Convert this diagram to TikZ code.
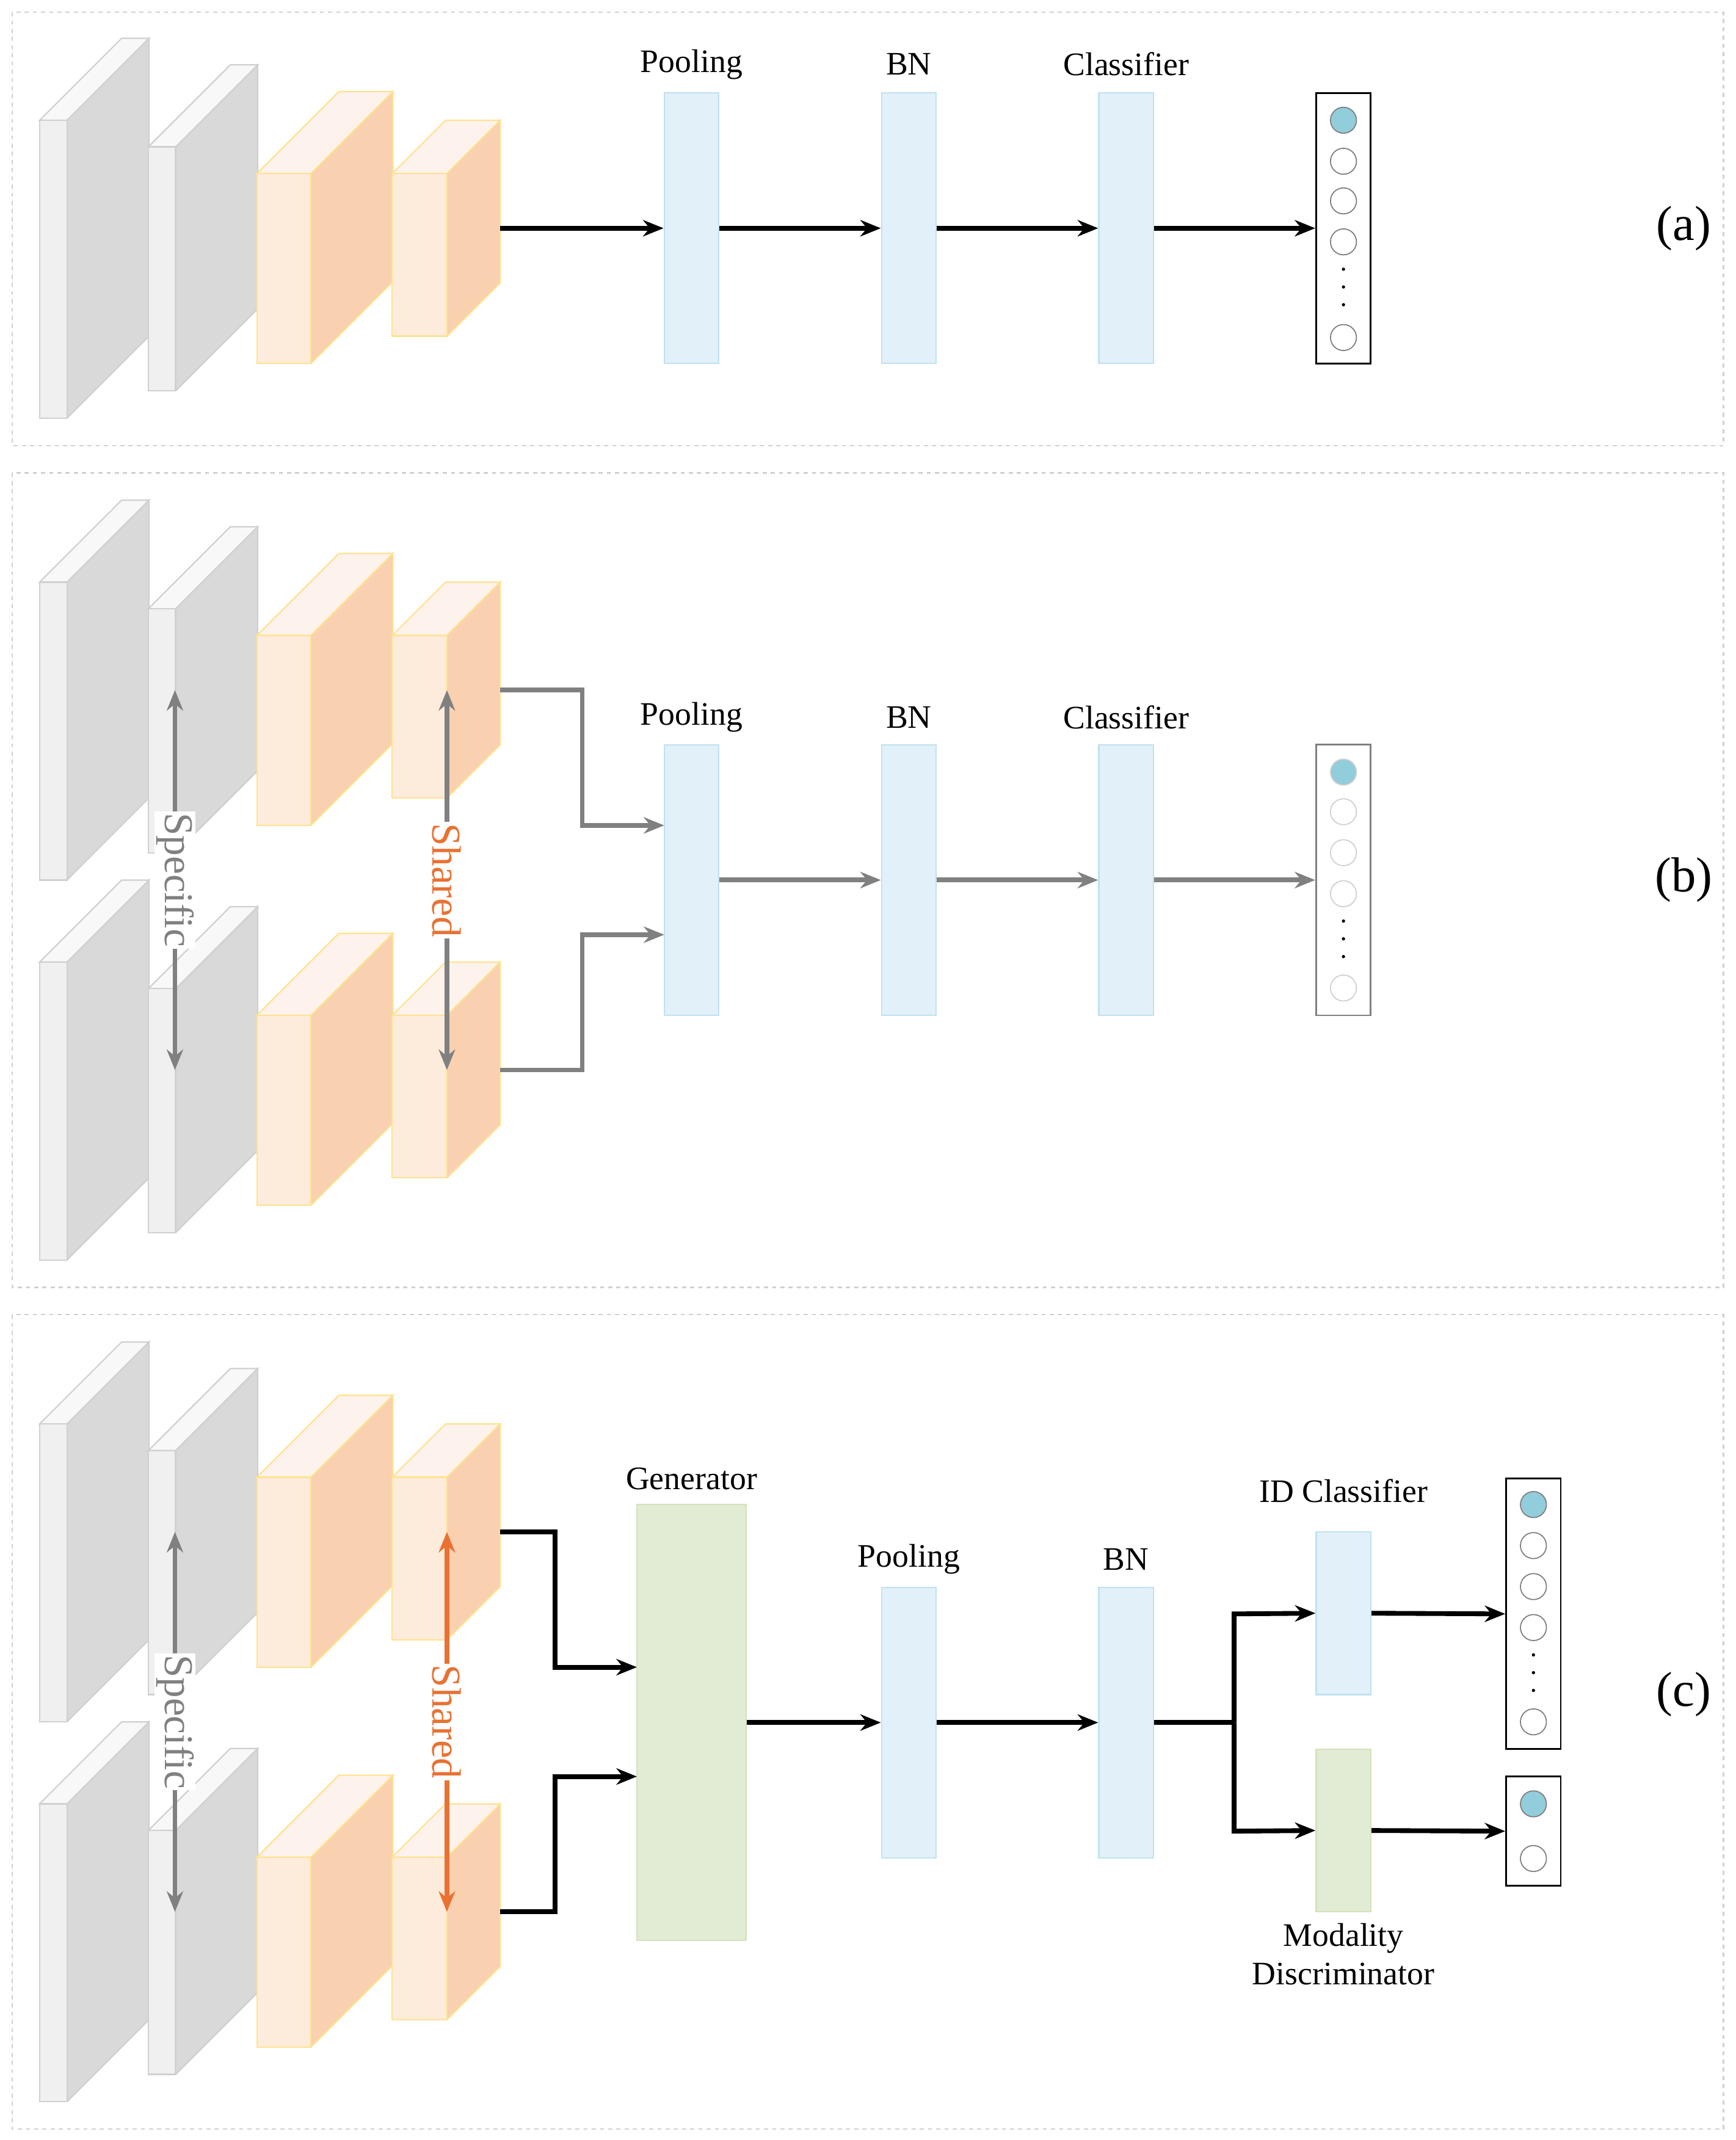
\documentclass[tikz,border=0pt]{standalone}
\usepackage{fontspec}
\setmainfont{Liberation Serif}
\usetikzlibrary{arrows.meta}
\definecolor{gF}{HTML}{F0F0F0}\definecolor{gS}{HTML}{D9D9D9}\definecolor{gT}{HTML}{F8F8F8}\definecolor{gL}{HTML}{D0D0D0}
\definecolor{oF}{HTML}{FDEBDB}\definecolor{oS}{HTML}{F9D0B0}\definecolor{oT}{HTML}{FEF2EC}\definecolor{oL}{HTML}{FFE28F}
\definecolor{bF}{HTML}{E2F0F9}\definecolor{bL}{HTML}{BFE2F0}
\definecolor{vF}{HTML}{E2EBD3}\definecolor{vL}{HTML}{D3E2BC}
\definecolor{cF}{HTML}{92CDDC}\definecolor{orn}{HTML}{E97132}\definecolor{arg}{HTML}{808080}
\newcommand\drawblk[8]{% x y w h front side line depth
 \fill[#6] (#1+#3,#2) -- (#1+#3+#8,#2-#8) -- (#1+#3+#8,#2+#4-#8) -- (#1+#3,#2+#4) -- cycle;
 \draw[#7,line width=1] (#1+#3,#2) -- (#1+#3+#8,#2-#8) -- (#1+#3+#8,#2+#4-#8) -- (#1+#3,#2+#4);
 \filldraw[fill=#5T,draw=#7,line width=1] (#1,#2) -- (#1+#8,#2-#8) -- (#1+#3+#8,#2-#8) -- (#1+#3,#2) -- cycle;
 \filldraw[fill=#5F,draw=#7,line width=1] (#1,#2) rectangle (#1+#3,#2+#4);}
\newcommand\stack[1]{%
 \drawblk{29}{88+#1}{20}{218}{g}{gS}{gL}{60}
 \drawblk{108.5}{107.5+#1}{20}{178.5}{g}{gS}{gL}{60}
 \drawblk{188}{127+#1}{39.5}{139}{o}{oS}{oL}{60}
 \drawblk{287}{127+#1}{40}{119}{o}{oS}{oL}{39}}
\begin{document}
\begin{tikzpicture}[x=1pt,y=-1pt,
 panel/.style={draw=gL,dashed,line width=1},
 bbar/.style={draw=bL,fill=bF,line width=1,minimum width=40,minimum height=198,inner sep=0},
 lab/.style={font=\fontsize{24}{26}\selectfont,inner sep=0},
 tag/.style={font=\fontsize{36}{38}\selectfont},
 outbox/.style={draw=black,line width=1.3,minimum width=40,inner sep=0},
 cir/.style={circle,draw=arg,line width=0.8,minimum size=19,inner sep=0},
 full/.style={cir,fill=cF,draw=arg},
 ka/.style={line width=3.5,-{Stealth[length=15,width=12]}},
 ga/.style={line width=3.5,arg,-{Stealth[length=15,width=12]}},
 da/.style={line width=3.5,{Stealth[length=15,width=12]}-{Stealth[length=15,width=12]}},
 rl/.style={font=\fontsize{30}{32}\selectfont,rotate=-90,fill=white,inner sep=1}]
\useasboundingbox (0,0) rectangle (1270,1566);
\fill[white] (0,0) rectangle (1270,1566);
\draw[panel] (9,9) rectangle (1261,326);
\draw[panel] (9,346) rectangle (1261,942);
\draw[panel] (9,962) rectangle (1261,1558);
% ---- (a)
\stack{0}
\coordinate (a4) at (366,167);
\node[bbar] (ap) at (506,167) {};
\node[bbar] (ab) at (665,167) {};
\node[bbar] (ac) at (824,167) {};
\node[outbox,minimum height=198] (ao) at (983,167) {};
\node[lab] at (506,47) {Pooling};
\node[lab] at (665,47) {BN};
\node[lab] at (824,47) {Classifier};
\foreach \y/\s in {88/full,118/cir,147/cir,177/cir,247/cir} \node[\s] at (983,\y) {};
\foreach \y in {197,210,223} \fill (983,\y) circle (1.2);
\draw[ka] (a4) -- (ap.west);
\draw[ka] (ap.east) -- (ab.west);
\draw[ka] (ab.east) -- (ac.west);
\draw[ka] (ac.east) -- (ao.west);
\node[tag] at (1232,167) {(a)};
% ---- (b)
\stack{338}
\stack{616}
\coordinate (b4u) at (366,505);
\coordinate (b4d) at (366,783);
\node[bbar] (bp) at (506,644) {};
\node[bbar] (bb) at (665,644) {};
\node[bbar] (bc) at (824,644) {};
\node[outbox,draw=arg,minimum height=198] (bo) at (983,644) {};
\node[lab] at (506,525) {Pooling};
\node[lab] at (665,525) {BN};
\node[lab] at (824,525) {Classifier};
\foreach \y/\s in {565/full,594/cir,624/cir,654/cir,723/cir} \node[\s,draw=gL] at (983,\y) {};
\foreach \y in {674,687,700} \fill (983,\y) circle (1.2);
\draw[ga] (b4u) -- (426,505) -- (426,604) -- (486,604);
\draw[ga] (b4d) -- (426,783) -- (426,684) -- (486,684);
\draw[ga] (bp.east) -- (bb.west);
\draw[ga] (bb.east) -- (bc.west);
\draw[ga] (bc.east) -- (bo.west);
\coordinate (bs1) at (128,505); \coordinate (bs2) at (128,783);
\draw[da,arg] (bs1) -- node[rl,text=arg] {Specific} (bs2);
\coordinate (bh1) at (327,505); \coordinate (bh2) at (327,783);
\draw[da,arg] (bh1) -- node[rl,text=orn] {Shared} (bh2);
\node[tag] at (1232,644) {(b)};
% ---- (c)
\stack{954}
\stack{1232}
\coordinate (c4u) at (366,1121);
\coordinate (c4d) at (366,1399);
\node[draw=vL,fill=vF,line width=1,minimum width=80,minimum height=319,inner sep=0] (cg) at (506,1260.5) {};
\node[bbar] (cp) at (665,1260.5) {};
\node[bbar] (cb) at (824,1260.5) {};
\node[bbar,minimum height=119] (cid) at (983,1180.5) {};
\node[draw=vL,fill=vF,line width=1,minimum width=40,minimum height=119,inner sep=0] (cmd) at (983,1339.5) {};
\node[outbox,minimum height=198] (co1) at (1122,1181) {};
\node[outbox,minimum height=80] (co2) at (1122,1340) {};
\node[lab] at (506,1082) {Generator};
\node[lab] at (665,1141) {Pooling};
\node[lab] at (824,1141) {BN};
\node[lab] at (983,1091) {ID Classifier};
\node[lab,align=center] at (983,1430) {Modality\\[2pt]Discriminator};
\foreach \y/\s in {1101/full,1131/cir,1161/cir,1191/cir,1260/cir,1320/full,1360/cir} \node[\s] at (1122,\y) {};
\foreach \y in {1211,1224,1237} \fill (1122,\y) circle (1.2);
\draw[ka] (c4u) -- (406,1121) -- (406,1220) -- (466,1220);
\draw[ka] (c4d) -- (406,1399) -- (406,1300) -- (466,1300);
\draw[ka] (cg.east) -- (cp.west);
\draw[ka] (cp.east) -- (cb.west);
\coordinate (cj) at (903,1260.5);
\draw[line width=3.5] (cb.east) -- (cj);
\draw[ka] (cj) -- (903,1181) -- (cid.west);
\draw[ka] (cj) -- (903,1340) -- (cmd.west);
\draw[ka] (cid.east) -- (co1.west);
\draw[ka] (cmd.east) -- (co2.west);
\coordinate (cs1) at (128,1121); \coordinate (cs2) at (128,1399);
\draw[da,arg] (cs1) -- node[rl,text=arg] {Specific} (cs2);
\coordinate (ch1) at (327,1121); \coordinate (ch2) at (327,1399);
\draw[da,orn] (ch1) -- node[rl,text=orn] {Shared} (ch2);
\node[tag] at (1232,1240) {(c)};
\end{tikzpicture}
\end{document}
